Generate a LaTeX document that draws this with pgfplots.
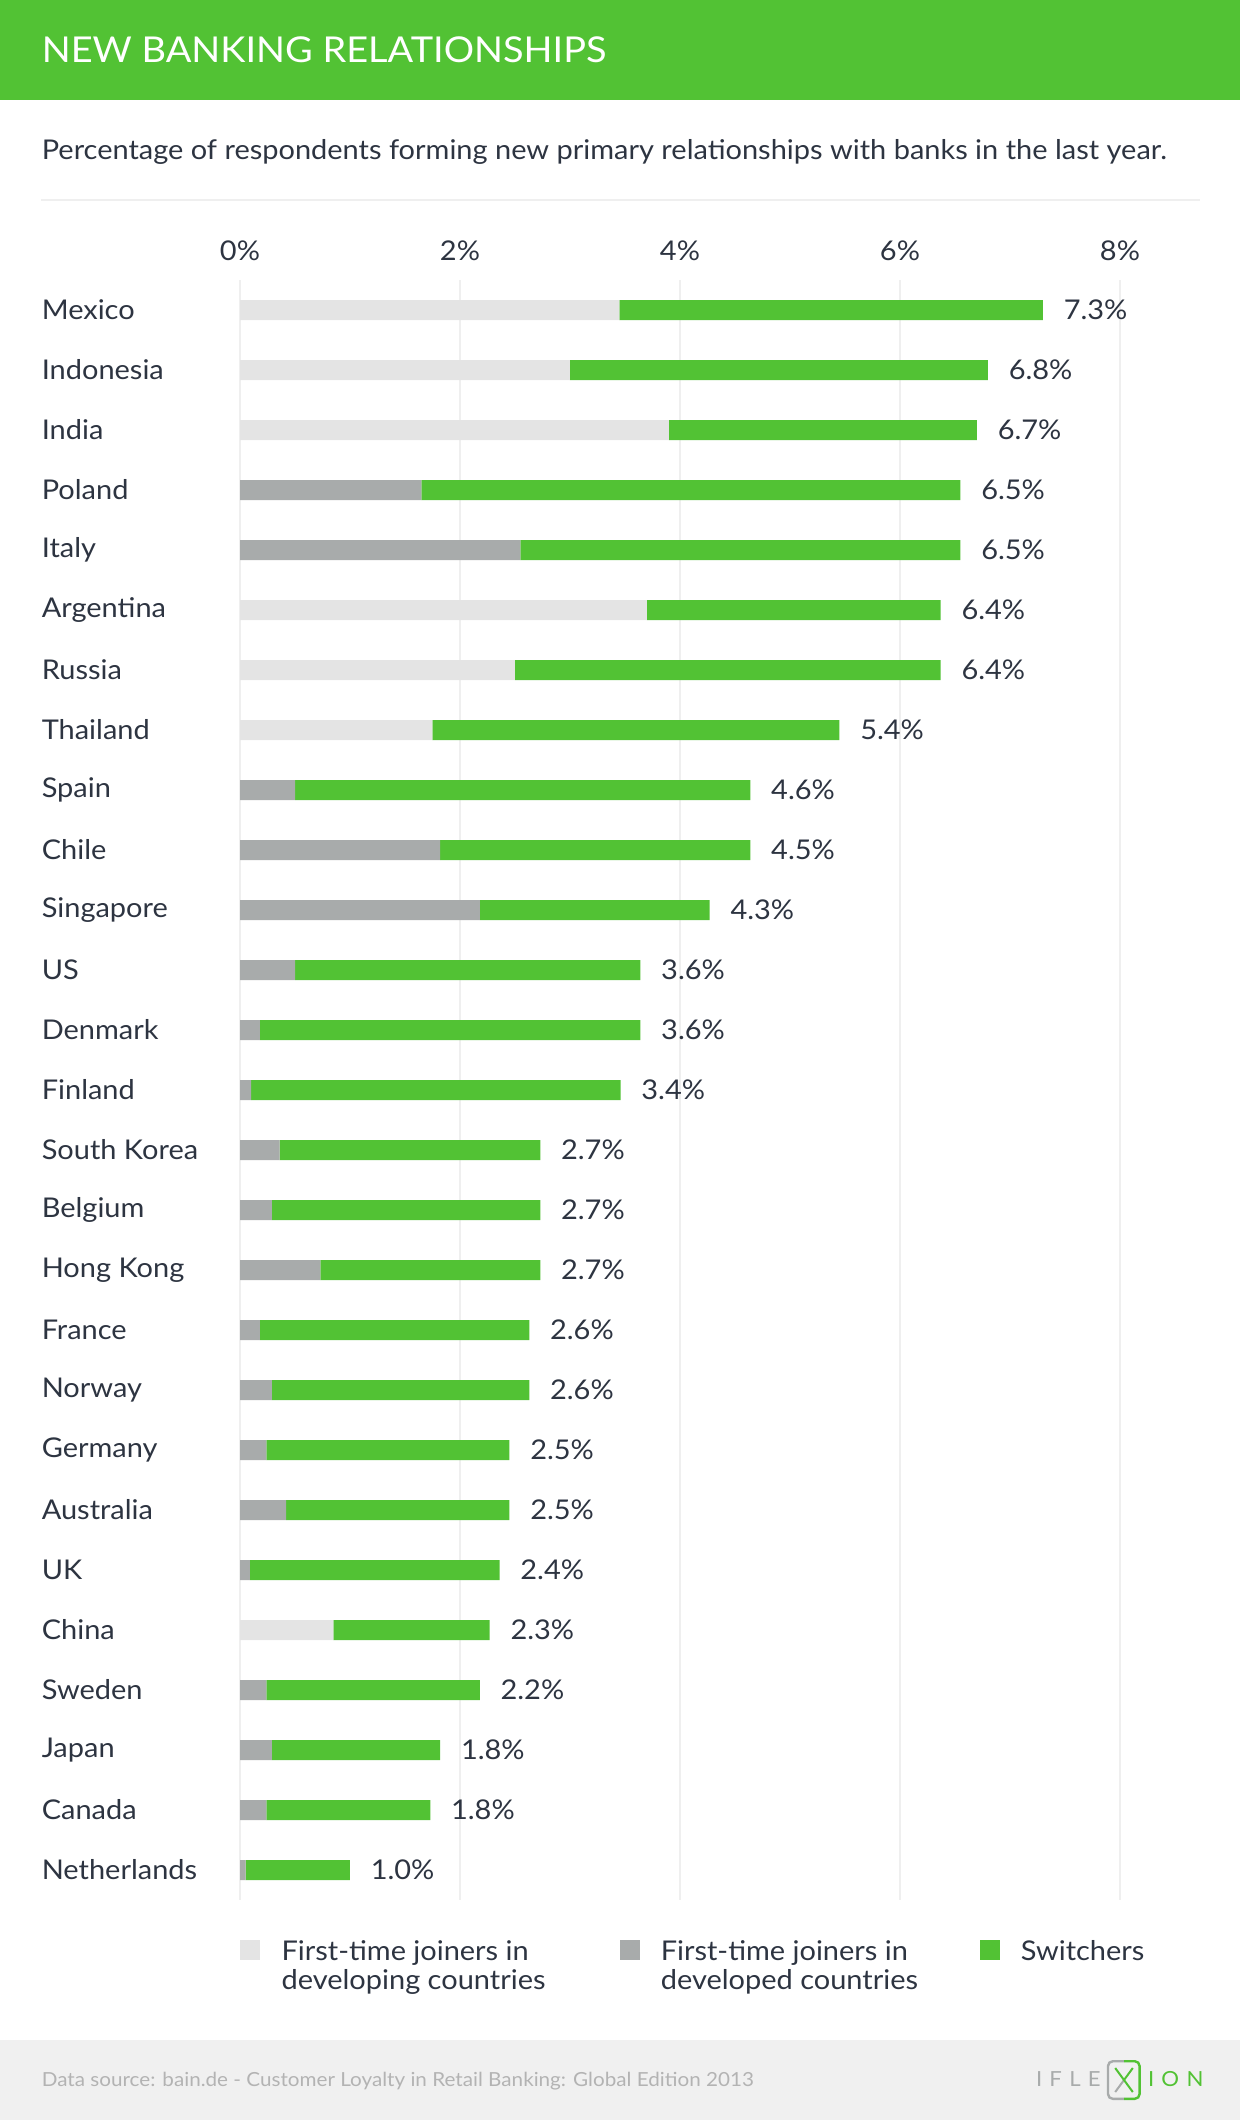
\documentclass[border=0pt]{standalone}
\usepackage{fontspec}
\setmainfont{Lato}[FakeStretch=1.065]
\usepackage{pgfplots}
\pgfplotsset{compat=1.18}
\usepackage{pgfplotstable}

\definecolor{bgreen}{HTML}{52C234}
\definecolor{devc}{HTML}{E4E4E4}
\definecolor{devdc}{HTML}{A8ABAB}
\definecolor{txt}{HTML}{2D3441}
\definecolor{gridc}{HTML}{EFEFEF}
\definecolor{footbg}{HTML}{F0F0F0}
\definecolor{foottxt}{HTML}{B3B3B3}

% dev = first-time joiners (developing), devd = first-time joiners (developed),
% sw = switchers, tot = bar end, label = printed total
\pgfplotstableread{
idx name          dev   devd  sw    tot   label
0   Mexico        3.45  0     3.85  7.30  7.3
1   Indonesia     3.0   0     3.8   6.80  6.8
2   India         3.9   0     2.8   6.70  6.7
3   Poland        0     1.65  4.9   6.55  6.5
4   Italy         0     2.55  4.0   6.55  6.5
5   Argentina     3.7   0     2.67  6.37  6.4
6   Russia        2.5   0     3.87  6.37  6.4
7   Thailand      1.75  0     3.7   5.45  5.4
8   Spain         0     0.5   4.14  4.64  4.6
9   Chile         0     1.82  2.82  4.64  4.5
10  Singapore     0     2.18  2.09  4.27  4.3
11  US            0     0.5   3.14  3.64  3.6
12  Denmark       0     0.18  3.46  3.64  3.6
13  Finland       0     0.1   3.36  3.46  3.4
14  {South Korea} 0     0.36  2.37  2.73  2.7
15  Belgium       0     0.29  2.44  2.73  2.7
16  {Hong Kong}   0     0.73  2.0   2.73  2.7
17  France        0     0.18  2.45  2.63  2.6
18  Norway        0     0.29  2.34  2.63  2.6
19  Germany       0     0.24  2.21  2.45  2.5
20  Australia     0     0.42  2.03  2.45  2.5
21  UK            0     0.09  2.27  2.36  2.4
22  China         0.85  0     1.42  2.27  2.3
23  Sweden        0     0.24  1.94  2.18  2.2
24  Japan         0     0.29  1.53  1.82  1.8
25  Canada        0     0.24  1.49  1.73  1.8
26  Netherlands   0     0.05  0.95  1.00  1.0
}\data

\newcommand{\lbl}{\fontsize{6.8}{8}\selectfont}

\pgfplotsset{
  frame/.style={
    at={(60pt,-475pt)}, anchor=south west,
    width=220pt, height=405pt, scale only axis,
    xmin=0, xmax=8, ymin=-0.5, ymax=26.5, y dir=reverse,
    enlargelimits=false, clip=false,
    axis line style={draw=none}, tick style={draw=none},
  },
}

\begin{document}
\begin{tikzpicture}
% header
\fill[bgreen] (0,0) rectangle (310pt,-25pt);
\node[anchor=base west, inner sep=0, text=white, font=\fontsize{8.9}{10}\selectfont]
  at (10.25pt,-15.75pt) {NEW BANKING RELATIONSHIPS};
\node[anchor=base west, inner sep=0, text=txt, font=\fontsize{6.8}{8}\selectfont]
  at (10.25pt,-39.75pt) {Percentage of respondents forming new primary relationships with banks in the last year.};
\draw[gridc, line width=0.5pt] (10.25pt,-50pt) -- (300pt,-50pt);

\begin{axis}[
  frame,
  xbar stacked, bar width=5pt,
  xmajorgrids, grid style={draw=gridc, line width=0.45pt},
  xtick={0,2,4,6,8}, xticklabels={0\%,2\%,4\%,6\%,8\%},
  xticklabel pos=upper,
  xticklabel style={anchor=base, yshift=5pt, inner sep=0pt, font=\lbl, text=txt},
  ytick={0,...,26}, yticklabels from table={\data}{name},
  yticklabel style={anchor=west, xshift=-49.75pt, inner sep=0pt, font=\lbl, text=txt},
]
\addplot[fill=devc, draw=none] table[x=dev, y=idx] {\data};
\addplot[fill=devdc, draw=none] table[x=devd, y=idx] {\data};
\addplot[fill=bgreen, draw=none] table[x=sw, y=idx] {\data};
\end{axis}

% value labels at the bar ends
\begin{axis}[frame, hide axis]
\addplot[draw=none, mark=none, point meta=explicit symbolic,
  nodes near coords={\pgfplotspointmeta\%},
  nodes near coords style={anchor=west, xshift=5pt, inner sep=0pt, font=\lbl, text=txt}]
  table[x=tot, y=idx, meta=label] {\data};
\end{axis}

% legend
\fill[devc] (60pt,-485pt) rectangle (65pt,-490pt);
\node[anchor=base west, inner sep=0, font=\lbl, text=txt] at (70.2pt,-490pt) {First-time joiners in};
\node[anchor=base west, inner sep=0, font=\lbl, text=txt] at (70.2pt,-497.3pt) {developing countries};
\fill[devdc] (155pt,-485pt) rectangle (160pt,-490pt);
\node[anchor=base west, inner sep=0, font=\lbl, text=txt] at (165pt,-490pt) {First-time joiners in};
\node[anchor=base west, inner sep=0, font=\lbl, text=txt] at (165pt,-497.3pt) {developed countries};
\fill[bgreen] (245pt,-485pt) rectangle (250pt,-490pt);
\node[anchor=base west, inner sep=0, font=\lbl, text=txt] at (255pt,-490pt) {Switchers};

% footer
\fill[footbg] (0,-510pt) rectangle (310pt,-530pt);
\node[anchor=base west, inner sep=0, text=foottxt, font=\fontsize{4.85}{5.5}\selectfont]
  at (10.25pt,-521.7pt) {Data source: bain.de - Customer Loyalty in Retail Banking: Global Edition 2013};
\node[anchor=base west, inner sep=0, text=devdc, font=\fontsize{5.2}{6}\selectfont\addfontfeatures{LetterSpace=35}]
  at (258.8pt,-521.7pt) {IFLE};
\draw[devdc, line width=0.6pt, rounded corners=1.2pt]
  (281pt,-515.3pt) -- (277pt,-515.3pt) -- (277pt,-524.7pt) -- (281pt,-524.7pt);
\draw[bgreen, line width=0.6pt, rounded corners=1.2pt]
  (281pt,-515.3pt) -- (284.9pt,-515.3pt) -- (284.9pt,-524.7pt) -- (281pt,-524.7pt);
\draw[devdc, line width=0.5pt] (278.8pt,-523pt) -- (281pt,-520pt);
\draw[bgreen, line width=0.5pt] (278.8pt,-517pt) -- (283.2pt,-523pt) (281pt,-520pt) -- (283.2pt,-517pt);
\node[anchor=base west, inner sep=0, text=bgreen, font=\fontsize{5.2}{6}\selectfont\addfontfeatures{LetterSpace=35}]
  at (286.8pt,-521.7pt) {ION};

\pgfresetboundingbox
\path (0,0) rectangle (310pt,-530pt);
\end{tikzpicture}
\end{document}
